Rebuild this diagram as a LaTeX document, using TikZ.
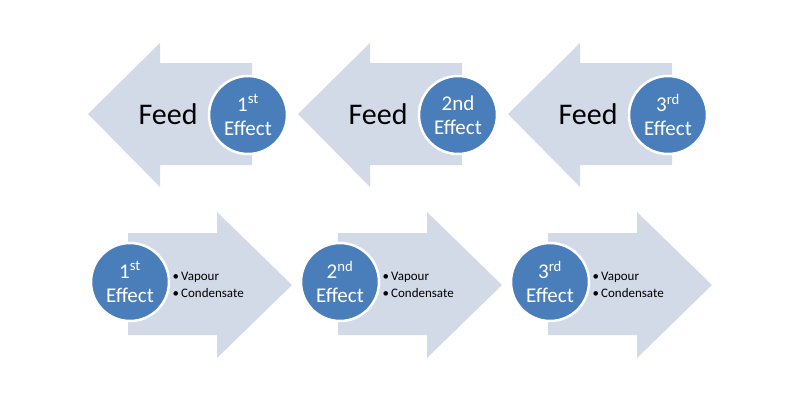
\documentclass[tikz,border=0pt]{standalone}
\usepackage{fontspec}
\setmainfont{Carlito}
\definecolor{arr}{HTML}{D3DAE7}
\definecolor{circ}{HTML}{4A7EBB}
\begin{document}
\begin{tikzpicture}[x=1pt,y=-1pt,
  arrow/.style={fill=arr,draw=none},
  eff/.style={circle,fill=circ,draw=white,line width=2.5pt,minimum size=78pt,inner sep=0pt,text=white,font=\fontsize{21}{24}\selectfont,align=center},
  feed/.style={font=\fontsize{30}{30}\selectfont},
  bul/.style={font=\fontsize{13}{17}\selectfont,align=left,anchor=west}]
\useasboundingbox (0,0) rectangle (800,400);
\foreach \d/\i in {0/1,210/2,420/3}{
  \fill[arrow] (88+\d,114) -- (160+\d,43) -- (160+\d,63) -- (252+\d,63) -- (252+\d,165) -- (160+\d,165) -- (160+\d,187) -- cycle;
  \node[feed] (feed\i) at (168+\d,114) {Feed};
  \fill[arrow] (292+\d,285) -- (217+\d,212) -- (217+\d,233) -- (128+\d,233) -- (128+\d,335) -- (217+\d,335) -- (217+\d,358) -- cycle;
  \node[bul] (b\i) at (169+\d,285) {\textbullet\,Vapour\\\textbullet\,Condensate};
}
\node[eff] (t1) at (248,115) {1\textsuperscript{st}\\Effect};
\node[eff] (t2) at (458,115) {2nd\\Effect};
\node[eff] (t3) at (668,115) {3\textsuperscript{rd}\\Effect};
\node[eff] (e1) at (130,282) {1\textsuperscript{st}\\Effect};
\node[eff] (e2) at (340,282) {2\textsuperscript{nd}\\Effect};
\node[eff] (e3) at (550,282) {3\textsuperscript{rd}\\Effect};
\end{tikzpicture}
\end{document}
